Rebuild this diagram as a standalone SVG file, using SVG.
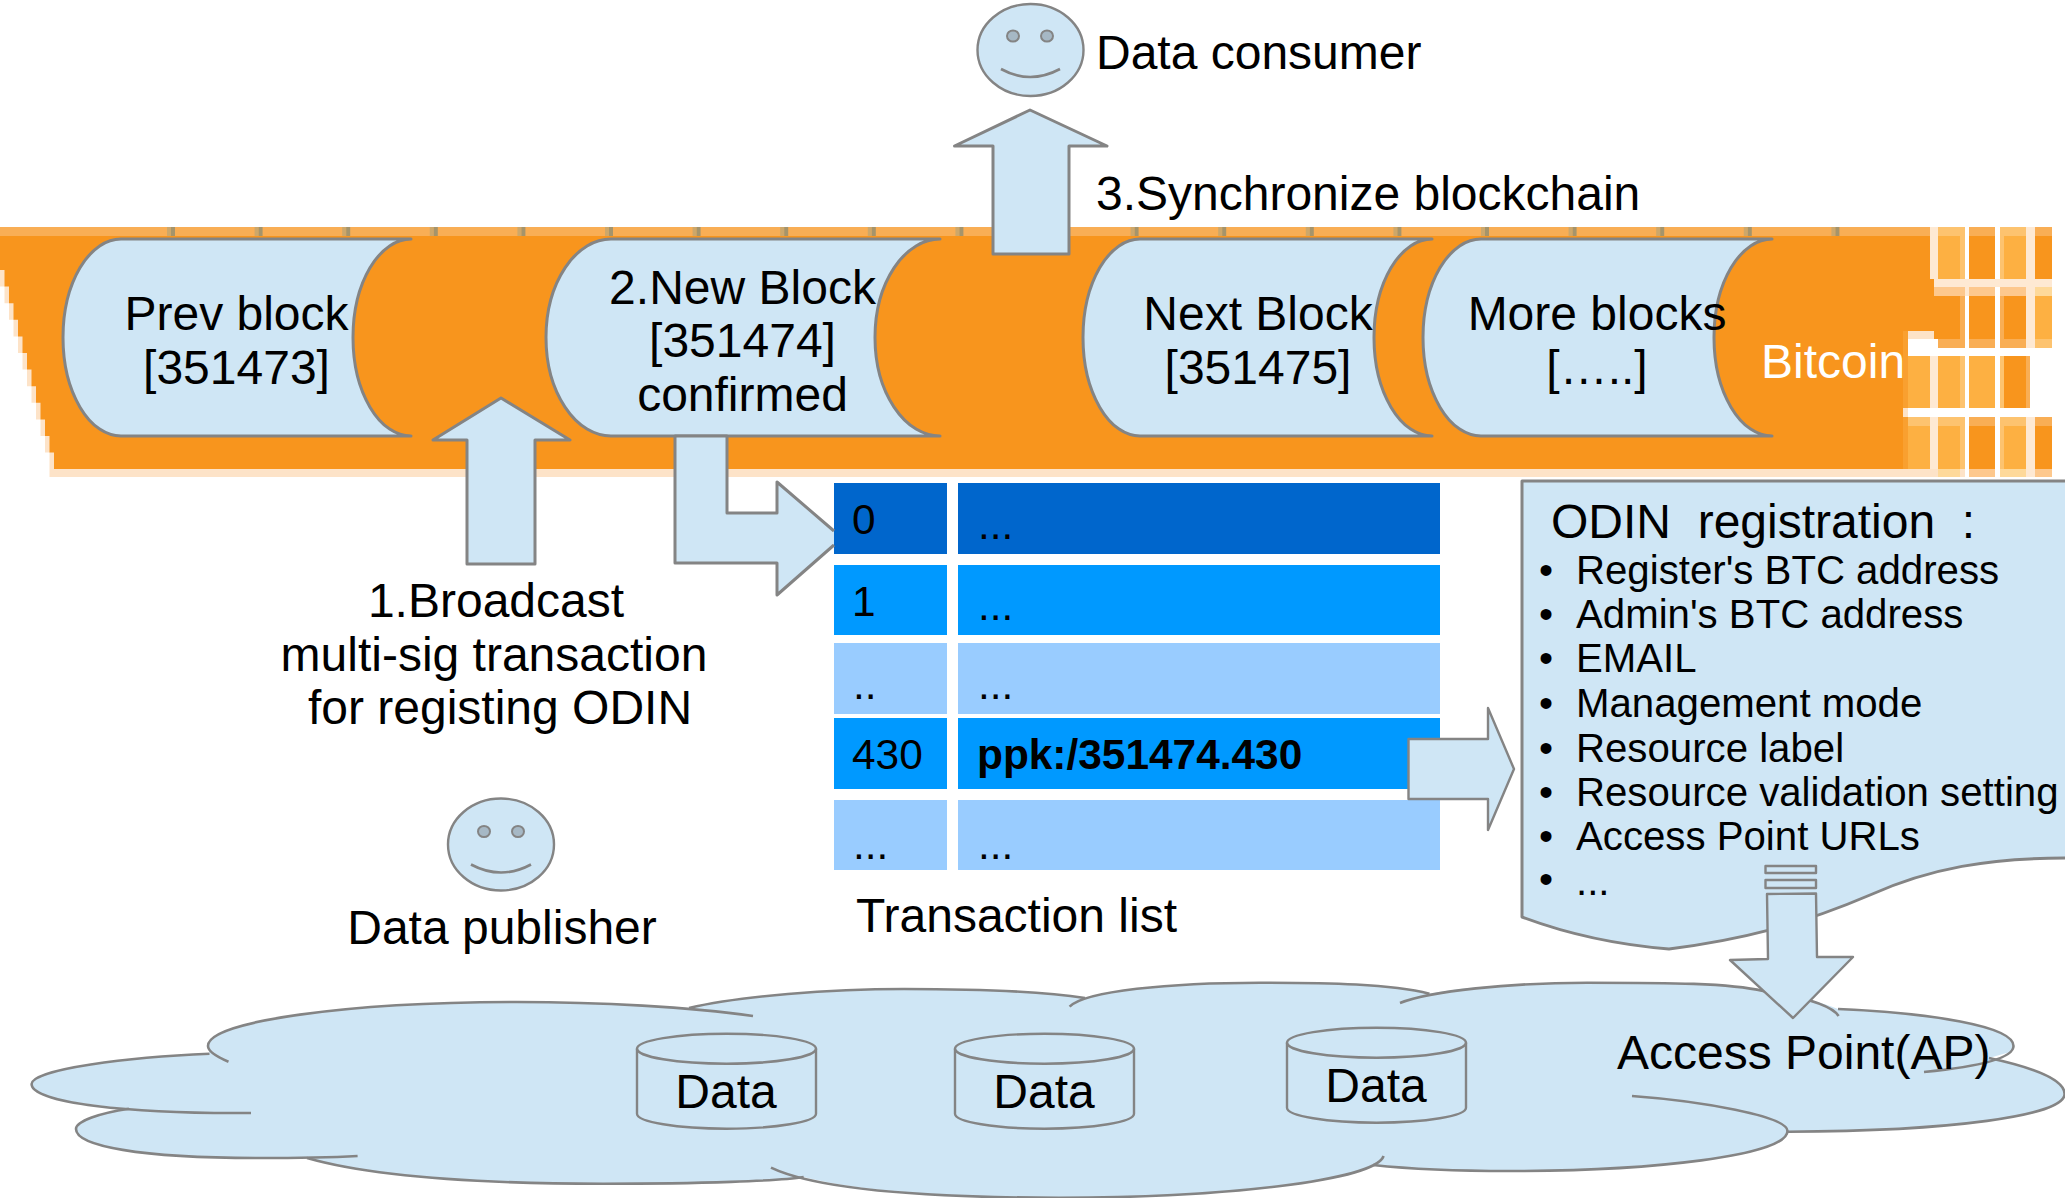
<svg xmlns="http://www.w3.org/2000/svg" width="2065" height="1198" viewBox="0 0 2065 1198">
<style>
text{font-family:"Liberation Sans",Arial,sans-serif;font-size:48px;fill:#000;white-space:pre}
.m{text-anchor:middle}
.sh{fill:#cfe6f5;stroke:#848484;stroke-width:3;stroke-linejoin:round}
.th{fill:#cfe6f5;stroke:#848484;stroke-width:2.4;stroke-linejoin:round}
.ln{fill:none;stroke:#848484;stroke-width:2.6;stroke-linecap:butt}
.eye{fill:#a6b8c5;stroke:#848484;stroke-width:2}
.cell{font-size:42.4px}
.li{font-size:40.2px}
.a{fill:#f9ae55}.o{fill:#f8951d}.l{fill:#fdb042}.t{fill:#fdc36f}.p{fill:#fde3c8}.q{fill:#fee9d3}.c{fill:#fdc88d}.d{fill:#fed99a}
.r0{fill:#0066cc}.r1{fill:#0099ff}.r2{fill:#99ccff}
</style>
<defs>
<polygon id="stair" points="0,236 0,270 4.5,270 4.5,286.6 9,286.6 9,303.2 13.5,303.2 13.5,319.8 18,319.8 18,336.4 22.5,336.4 22.5,353 27,353 27,369.6 31.5,369.6 31.5,386.2 36,386.2 36,402.8 40.5,402.8 40.5,419.4 45,419.4 45,436 49.5,436 49.5,452.6 54,452.6 54,469 1903,469 1903,331 1934,331 1934,339 1960,339 1960,296 1934,296 1934,279 1930,279 1930,236"/>
</defs>

<g id="bitcoin-band">
<use href="#stair" x="-4.5" class="p"/>
<rect class="p" x="49.5" y="469" width="1854" height="8"/>
<use href="#stair" class="o"/>
<rect class="a" x="0" y="227" width="1930" height="9"/>
<path fill="#cda76a" d="M167 227h4v9h-4zM254.6 227h4v9h-4zM342.2 227h4v9h-4zM429.8 227h4v9h-4zM517.4 227h4v9h-4zM605 227h4v9h-4zM692.6 227h4v9h-4zM780.2 227h4v9h-4zM867.8 227h4v9h-4zM955.4 227h4v9h-4zM1043 227h4v9h-4zM1130.6 227h4v9h-4zM1218.2 227h4v9h-4zM1305.8 227h4v9h-4zM1393.4 227h4v9h-4zM1481 227h4v9h-4zM1568.6 227h4v9h-4zM1656.2 227h4v9h-4zM1743.8 227h4v9h-4zM1831.4 227h4v9h-4z"/>
<path fill="#a5946b" d="M171 227h4v9h-4zM258.6 227h4v9h-4zM346.2 227h4v9h-4zM433.8 227h4v9h-4zM521.4 227h4v9h-4zM609 227h4v9h-4zM696.6 227h4v9h-4zM784.2 227h4v9h-4zM871.8 227h4v9h-4zM959.4 227h4v9h-4zM1047 227h4v9h-4zM1134.6 227h4v9h-4zM1222.2 227h4v9h-4zM1309.8 227h4v9h-4zM1397.4 227h4v9h-4zM1485 227h4v9h-4zM1572.6 227h4v9h-4zM1660.2 227h4v9h-4zM1747.8 227h4v9h-4zM1835.4 227h4v9h-4z"/>
<rect class="q" x="1930" y="227" width="8" height="52"/>
<rect class="t" x="1938" y="227" width="27" height="9"/><rect class="l" x="1938" y="236" width="22" height="43"/><rect class="t" x="1960" y="236" width="5" height="43"/>
<rect class="a" x="1969" y="227" width="26" height="9"/><rect class="o" x="1969" y="236" width="26" height="43"/>
<rect class="t" x="2000" y="227" width="26" height="9"/><rect class="t" x="2000" y="236" width="4" height="43"/><rect class="l" x="2004" y="236" width="22" height="43"/>
<rect class="q" x="2026" y="227" width="9" height="52"/>
<rect class="a" x="2035" y="227" width="17" height="9"/><rect class="o" x="2035" y="236" width="17" height="43"/>
<rect class="q" x="1934" y="279" width="118" height="8"/>
<rect class="c" x="1934" y="287" width="61" height="9"/><rect class="c" x="2000" y="287" width="26" height="9"/><rect class="d" x="2035" y="287" width="17" height="9"/><rect class="q" x="2026" y="287" width="9" height="9"/>
<rect class="q" x="1965" y="279" width="4" height="17"/>
<rect class="a" x="1960" y="296" width="5" height="43"/><rect class="o" x="1969" y="296" width="26" height="43"/><rect class="a" x="2000" y="296" width="4" height="43"/><rect class="o" x="2004" y="296" width="22" height="43"/><rect class="q" x="2026" y="296" width="9" height="43"/><rect class="l" x="2035" y="296" width="17" height="43"/>
<rect class="a" x="1938" y="339" width="27" height="9"/><rect class="a" x="1969" y="339" width="26" height="9"/><rect class="a" x="2000" y="339" width="26" height="9"/><rect class="q" x="2026" y="339" width="9" height="9"/><rect class="t" x="2035" y="339" width="17" height="9"/>
<rect class="p" x="1908" y="331" width="26" height="8"/>
<rect fill="#f9a030" x="1903" y="331" width="5" height="146"/>
<rect fill="#fff" x="1908" y="339" width="30" height="17"/>
<rect fill="#fff" x="1908" y="348" width="155" height="8"/>
<rect class="l" x="1908" y="356" width="22" height="52"/><rect class="q" x="1930" y="356" width="8" height="52"/><rect class="l" x="1938" y="356" width="22" height="52"/><rect class="t" x="1960" y="356" width="5" height="52"/><rect class="l" x="1969" y="356" width="26" height="52"/><rect class="t" x="2000" y="356" width="4" height="52"/><rect class="o" x="2004" y="356" width="22" height="52"/><rect class="a" x="2026" y="356" width="4" height="52"/>
<rect fill="#fff" x="1908" y="408" width="144" height="9"/>
<rect class="p" x="1903" y="408" width="5" height="9"/>
<rect class="t" x="1908" y="417" width="57" height="9"/><rect class="a" x="1969" y="417" width="26" height="9"/><rect class="t" x="2000" y="417" width="26" height="9"/><rect class="q" x="2026" y="417" width="9" height="52"/><rect class="a" x="2035" y="417" width="17" height="9"/>
<rect class="l" x="1908" y="426" width="22" height="43"/><rect class="q" x="1930" y="417" width="8" height="52"/><rect class="l" x="1938" y="426" width="22" height="43"/><rect class="t" x="1960" y="426" width="5" height="43"/><rect class="o" x="1969" y="426" width="26" height="43"/><rect class="t" x="2000" y="426" width="4" height="43"/><rect class="l" x="2004" y="426" width="22" height="43"/><rect class="o" x="2035" y="426" width="17" height="43"/>
<rect class="p" x="1903" y="469" width="62" height="8"/><rect class="c" x="1969" y="469" width="26" height="8"/><rect class="d" x="2000" y="469" width="26" height="8"/><rect class="q" x="2026" y="469" width="9" height="8"/><rect class="c" x="2035" y="469" width="17" height="8"/>
<rect class="d" x="1938" y="469" width="22" height="8"/>
<text x="1761" y="378" style="fill:#fff">Bitcoin</text>
</g>

<g id="block-prev">
<path class="sh" d="M411 239H121A58 98.5 0 0 0 121 436H411A58 98.5 0 0 1 411 239Z"/>
<text class="m" x="236.500" y="330">Prev block</text><text class="m" x="236.500" y="384">[351473]</text>
</g>
<g id="block-new">
<path class="sh" d="M940 239H611A65 98.5 0 0 0 611 436H940A65 98.5 0 0 1 940 239Z"/>
<text class="m" x="742.500" y="303.500">2.New Block</text><text class="m" x="742.500" y="357">[351474]</text><text class="m" x="742.500" y="410.500">confirmed</text>
</g>
<g id="block-next">
<path class="sh" d="M1432 239H1140A57 98.500 0 0 0 1140 436H1432A58 98.500 0 0 1 1432 239Z"/>
<text class="m" x="1258" y="330">Next Block</text><text class="m" x="1258" y="384">[351475]</text>
</g>
<g id="block-more">
<path class="sh" d="M1772 239H1481A58 98.500 0 0 0 1481 436H1772A58 98.500 0 0 1 1772 239Z"/>
<text class="m" x="1597" y="330">More blocks</text><text class="m" x="1597" y="384">[…..]</text>
</g>

<g id="data-consumer">
<ellipse class="th" cx="1030.500" cy="50" rx="53" ry="46"/>
<ellipse class="eye" cx="1013" cy="36" rx="6" ry="5.5"/><ellipse class="eye" cx="1047" cy="36" rx="6" ry="5.5"/>
<path class="ln" d="M1001 69Q1030 85 1060 69"/>
<text x="1096" y="69">Data consumer</text>
</g>
<g id="data-publisher" transform="translate(0 1.500)">
<ellipse class="th" cx="501" cy="843" rx="53" ry="46"/>
<ellipse class="eye" cx="484" cy="830" rx="6" ry="5.5"/><ellipse class="eye" cx="518" cy="830" rx="6" ry="5.5"/>
<path class="ln" d="M471 863Q501 879 531 863"/>
<text class="m" x="502" y="942">Data publisher</text>
</g>
<g id="label-broadcast">
<text class="m" x="496" y="617">1.Broadcast</text>
<text class="m" x="494" y="671">multi-sig transaction</text>
<text class="m" x="500" y="724">for registing ODIN</text>
</g>
<g id="label-sync"><text x="1096" y="210">3.Synchronize blockchain</text></g>

<g id="transaction-list" transform="translate(0 1)">
<rect class="r0" x="834" y="482" width="113" height="71"/><rect class="r0" x="958" y="482" width="482" height="71"/>
<rect class="r1" x="834" y="564" width="113" height="70"/><rect class="r1" x="958" y="564" width="482" height="70"/>
<rect class="r2" x="834" y="642" width="113" height="71"/><rect class="r2" x="958" y="642" width="482" height="71"/>
<rect class="r1" x="834" y="717" width="113" height="71"/><rect class="r1" x="958" y="717" width="482" height="71"/>
<rect class="r2" x="834" y="799" width="113" height="70"/><rect class="r2" x="958" y="799" width="482" height="70"/>
<text class="cell" x="852" y="533">0</text><text class="cell" x="978" y="538">...</text>
<text class="cell" x="852" y="615">1</text><text class="cell" x="978" y="619">...</text>
<text class="cell" x="853" y="698">..</text><text class="cell" x="978" y="698">...</text>
<text class="cell" x="852" y="768">430</text><text class="cell" x="977" y="768" style="font-weight:bold">ppk:/351474.430</text>
<text class="cell" x="853" y="858">...</text><text class="cell" x="978" y="858">...</text>
<text x="856" y="931">Transaction list</text>
</g>

<g id="odin-registration">
<path class="sh" d="M2065 858C1990 858 1930 868 1870 895C1800 925 1740 940 1669 949C1620 945 1570 935 1522 917V481H2065"/>
<text x="1551" y="538">ODIN  registration  :</text>
<text class="li" x="1539" y="584">•</text><text class="li" x="1576" y="584">Register's BTC address</text>
<text class="li" x="1539" y="628">•</text><text class="li" x="1576" y="628">Admin's BTC address</text>
<text class="li" x="1539" y="672">•</text><text class="li" x="1576" y="672">EMAIL</text>
<text class="li" x="1539" y="717">•</text><text class="li" x="1576" y="717">Management mode</text>
<text class="li" x="1539" y="762">•</text><text class="li" x="1576" y="762">Resource label</text>
<text class="li" x="1539" y="806">•</text><text class="li" x="1576" y="806">Resource validation setting</text>
<text class="li" x="1539" y="850">•</text><text class="li" x="1576" y="850">Access Point URLs</text>
<text class="li" x="1539" y="893">•</text><text class="li" x="1576" y="895">...</text>
</g>

<g id="access-point-cloud" transform="translate(0 1)">
<path fill="#cfe6f5" d="M31.6 1083C31.6 1068 130 1056 209.5 1052.7L208 1045C208 1020 350 1001 517 1001C580 1001 640 1003 689 1007C740 995 830 988 904 988C970 988 1040 990 1085 997C1130 985 1190 981.7 1260 981.7C1330 981.7 1390 983 1429.5 992.7C1470 985 1530 981.7 1587 981.7C1670 981.7 1730 982 1763 990C1790 994 1820 1000 1838 1008C1930 1012 2013.5 1025 2013.5 1045L2010 1051L1989 1057C2040 1068 2064.6 1080 2064.6 1093C2064.6 1115 1950 1130 1788 1130.7C1787.5 1155 1650 1170 1510 1170C1450 1170 1410 1168 1373 1164C1340 1180 1220 1196.7 1059 1196.7C930 1196.7 850 1188 803.7 1176C780 1180 700 1182.7 603 1182.7C480 1182.7 370 1175 307 1157C290 1157 280 1157 258 1157C140 1157 76 1145 76 1128C76 1120 100 1112 129 1107.7C70 1102 31.6 1095 31.6 1083Z"/>
<path class="ln" d="M209.5 1052.7C130 1056 31.6 1068 31.6 1083C31.6 1102 130 1113 251 1112"/>
<path class="ln" d="M228.5 1060.7C215 1055 208 1050 208 1045C208 1020 350 1001 517 1001C600 1001 690 1006 753 1015"/>
<path class="ln" d="M689 1007C740 995 830 988 904 988C970 988 1040 990 1085 997"/>
<path class="ln" d="M1069.6 1005.7C1085 990 1170 981.7 1260 981.7C1330 981.7 1390 983 1429.5 992.7"/>
<path class="ln" d="M1400 1002C1430 990 1510 981.7 1587 981.7C1670 981.7 1730 982 1763 990C1790 994 1830 1002 1838.6 1015"/>
<path class="ln" d="M1838 1008C1930 1012 2013.5 1025 2013.5 1045C2013.5 1058 1975 1066 1924 1071"/>
<path class="ln" d="M1989 1057C2040 1068 2064.6 1080 2064.6 1093C2064.6 1115 1950 1130 1788 1130.7"/>
<path class="ln" d="M1632 1095C1700 1100 1787.5 1115 1787.5 1130C1787.5 1155 1650 1170 1510 1170C1450 1170 1410 1168 1373 1164"/>
<path class="ln" d="M1383.6 1155C1375 1180 1220 1196.7 1059 1196.7C930 1196.7 820 1190 771 1166.7"/>
<path class="ln" d="M803.7 1176C780 1180 700 1182.7 603 1182.7C480 1182.7 370 1175 307 1157"/>
<path class="ln" d="M357.6 1155C320 1157 290 1157 258 1157C140 1157 76 1145 76 1128C76 1120 100 1112 129 1107.7"/>
<text x="1617" y="1068">Access Point(AP)</text>
</g>

<g id="data-store-1" transform="translate(0 1)">
<path class="th" d="M637 1047.7A89.5 15 0 0 1 816 1047.7V1112.7A89.5 15 0 0 1 637 1112.7Z"/><path class="ln" d="M637 1047.7A89.5 15 0 0 0 816 1047.7"/>
<text class="m" x="726" y="1107">Data</text>
</g>
<g id="data-store-2" transform="translate(0 1)">
<path class="th" d="M955 1047.7A89.5 15 0 0 1 1134 1047.7V1112.7A89.5 15 0 0 1 955 1112.7Z"/><path class="ln" d="M955 1047.7A89.5 15 0 0 0 1134 1047.7"/>
<text class="m" x="1044" y="1107">Data</text>
</g>
<g id="data-store-3" transform="translate(0 1)">
<path class="th" d="M1287 1041.7A89.5 15 0 0 1 1466 1041.7V1106.7A89.5 15 0 0 1 1287 1106.7Z"/><path class="ln" d="M1287 1041.7A89.5 15 0 0 0 1466 1041.7"/>
<text class="m" x="1376" y="1101">Data</text>
</g>

<g id="connectors">
<polygon class="sh" points="501,398 570,440 535,440 535,564 467,564 467,440 433,440"/>
<polygon class="sh" points="1030,110 1107,146 1069,146 1069,254 993,254 993,146 954.500,146"/>
<path class="sh" d="M834 531L777 482V513H727V436H675V563H777V595L834 545"/>
<polygon class="th" points="1408.5,739 1488,739 1488,708 1514,769 1488,830 1488,799 1408.5,799"/>
<rect class="th" x="1765.5" y="866" width="50.5" height="7"/>
<rect class="th" x="1765.5" y="880" width="50.5" height="8"/>
<polygon class="th" points="1767,894 1816,893.5 1817,957 1853,957 1793,1018 1730,960 1768,959"/>
</g>
</svg>
